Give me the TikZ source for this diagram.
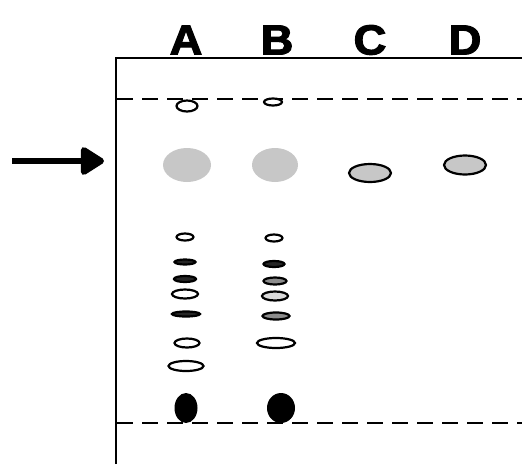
\documentclass[tikz,border=0pt]{standalone}
\usepackage{fontspec}
\setmainfont{Liberation Sans}
\newfontfamily\lanefont[FakeBold=2.5]{Liberation Sans Bold}
\usetikzlibrary{arrows.meta,shapes.geometric}
\begin{document}
\begin{tikzpicture}[x=1pt,y=-1pt,
  lanelabel/.style={font=\fontsize{42}{42}\lanefont, inner sep=0pt, anchor=center, xscale=1.08},
  spot/.style={ellipse, inner sep=0pt, draw=black, line width=2.2pt},
  whitespot/.style={spot, fill=white},
  darkspot/.style={spot, fill=black!85},
  midspot/.style={spot, fill=black!45},
  grayspot/.style={ellipse, inner sep=0pt, fill=black!22, draw=none},
  ovalspot/.style={spot, fill=black!22},
  blackspot/.style={ellipse, inner sep=0pt, fill=black, draw=none},
  frontline/.style={dashed, dash pattern=on 16pt off 9pt, line width=2pt},
  frameline/.style={line width=2pt}
]
\useasboundingbox (0,0) rectangle (522,464);
% frame
\draw[frameline] (116,464) -- (116,58) -- (523,58);
% solvent front and origin
\draw[frontline] (117,99) -- (522,99);
\draw[frontline] (117,423) -- (522,423);
% labels
\node[lanelabel] (labA) at (186,40) {A};
\node[lanelabel] (labB) at (277,40) {B};
\node[lanelabel] (labC) at (370,40) {C};
\node[lanelabel] (labD) at (465,40) {D};
% lane A
\node[whitespot, minimum width=21pt, minimum height=11pt] (a1) at (187,106) {};
\node[grayspot, minimum width=48pt, minimum height=34pt] (a2) at (187,165) {};
\node[whitespot, minimum width=17pt, minimum height=7pt] (a3) at (185,237) {};
\node[darkspot, minimum width=21pt, minimum height=5pt] (a4) at (185,262) {};
\node[darkspot, minimum width=22pt, minimum height=6pt] (a5) at (185,279) {};
\node[whitespot, minimum width=26pt, minimum height=9pt] (a6) at (185,294) {};
\node[darkspot, minimum width=28pt, minimum height=5pt] (a7) at (186,314) {};
\node[whitespot, minimum width=25pt, minimum height=9pt] (a8) at (187,343) {};
\node[whitespot, minimum width=35pt, minimum height=10pt] (a9) at (186,366) {};
\node[blackspot, minimum width=23pt, minimum height=30pt] (a10) at (186,408) {};
% lane B
\node[whitespot, minimum width=18pt, minimum height=7pt] (b1) at (273,102) {};
\node[grayspot, minimum width=46pt, minimum height=34pt] (b2) at (275,165) {};
\node[whitespot, minimum width=17pt, minimum height=7pt] (b3) at (274,238) {};
\node[darkspot, minimum width=21pt, minimum height=6pt] (b4) at (274,264) {};
\node[midspot, minimum width=23pt, minimum height=7pt] (b5) at (275,281) {};
\node[spot, fill=black!15, minimum width=26pt, minimum height=9pt] (b6) at (275,296) {};
\node[midspot, minimum width=27pt, minimum height=7pt] (b7) at (276,316) {};
\node[whitespot, minimum width=38pt, minimum height=10pt] (b8) at (276,343) {};
\node[blackspot, minimum width=28pt, minimum height=30pt] (b9) at (281,408) {};
% lanes C and D
\node[ovalspot, minimum width=42pt, minimum height=18pt] (c1) at (370,173) {};
\node[ovalspot, minimum width=42pt, minimum height=19pt] (d1) at (465,165) {};
% arrow
\coordinate (arrS) at (12,161);
\coordinate (arrE) at (104,161);
\draw[line width=6pt, -{Triangle[length=26pt,width=31pt,round]}] (arrS) -- (arrE);
\end{tikzpicture}
\end{document}
